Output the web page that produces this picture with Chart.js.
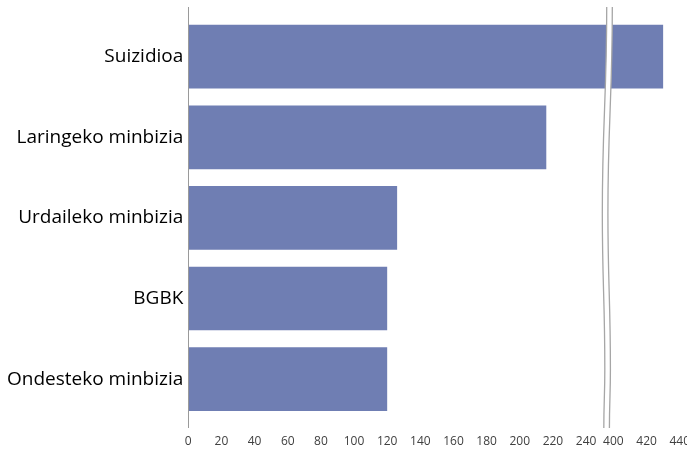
<!DOCTYPE html>
<html lang="eu">
<head>
    <meta charset="UTF-8" />
    <title>Heriotza-kausak</title>
    <script src="https://cdn.jsdelivr.net/npm/chart.js"></script>
    <style>
        html, body { margin: 0; padding: 0; background: #fff; overflow: hidden; }
        #causesChart { display: block; }
    </style>
</head>
<body>
<canvas id="causesChart" width="705" height="452"></canvas>

<script>
    // Datuak
    const causes = ['Suizidioa', 'Laringeko minbizia', 'Urdaileko minbizia', 'BGBK', 'Ondesteko minbizia'];
    const values = [430, 216, 126, 120, 120];
    const lowTicks = [0, 20, 40, 60, 80, 100, 120, 140, 160, 180, 200, 220, 240];
    const highTicks = [400, 420, 440];

    // Ardatz etena: 400etik aurrera balioak ezkerrera lerratzen dira
    const BREAK_SHIFT = 143.5;
    const BREAK_AT = 252.7;
    const toAxis = v => v >= 400 ? v - BREAK_SHIFT : v;
    const fromAxis = v => v > BREAK_AT ? Math.round(v + BREAK_SHIFT) : v;

    const BAR_COLOR = 'rgb(111,126,179)';
    const LINE_COLOR = '#a6a6a6';

    const axisLines = {
        id: 'axisLines',
        afterDatasetsDraw(chart) {
            const ctx = chart.ctx;
            const x = chart.scales.x;
            const top = 7, bottom = 428;
            const h = bottom - top;

            // y ardatzaren lerroa
            ctx.save();
            ctx.strokeStyle = '#9a9a9a';
            ctx.lineWidth = 1;
            ctx.beginPath();
            ctx.moveTo(Math.round(x.left) + 0.5, top);
            ctx.lineTo(Math.round(x.left) + 0.5, bottom);
            ctx.stroke();

            // etenaren marra uhinduak (erdiko lerroaren puntuak, goitik behera)
            const xc = x.getPixelForValue(BREAK_AT);
            const gap = 2.8;
            const pts = [[2.4, 0], [-2, 0.49], [0.5, 0.86], [-0.5, 1]];
            const wave = off => pts.map(([dx, t]) => [xc + dx + off, top + h * t]);
            const trace = (p, first) => {
                if (first) ctx.moveTo(p[0][0], p[0][1]);
                for (let i = 1; i < p.length; i++) {
                    const [x0, y0] = p[i - 1], [x1, y1] = p[i];
                    const my = (y1 - y0) * 0.45;
                    ctx.bezierCurveTo(x0, y0 + my, x1, y1 - my, x1, y1);
                }
            };

            // tarte zuria bi marren artean
            const left = wave(-gap), right = wave(gap);
            ctx.fillStyle = '#fff';
            ctx.beginPath();
            trace(left, true);
            const back = right.slice().reverse();
            ctx.lineTo(back[0][0], back[0][1]);
            trace(back, false);
            ctx.closePath();
            ctx.fill();

            ctx.strokeStyle = LINE_COLOR;
            ctx.lineWidth = 1.3;
            ctx.beginPath();
            trace(left, true);
            ctx.stroke();
            ctx.beginPath();
            trace(right, true);
            ctx.stroke();
            ctx.restore();
        }
    };

    const ctx = document.getElementById('causesChart').getContext('2d');
    const chart = new Chart(ctx, {
        type: 'bar',
        data: {
            labels: causes,
            datasets: [{
                data: values.map(toAxis),
                backgroundColor: BAR_COLOR,
                borderWidth: 0,
                barPercentage: 0.79,
                categoryPercentage: 1
            }]
        },
        options: {
            indexAxis: 'y',
            responsive: false,
            animation: false,
            layout: { padding: { top: 15.6, right: 0, bottom: 0, left: 0 } },
            plugins: {
                legend: { display: false },
                tooltip: { enabled: false }
            },
            scales: {
                x: {
                    min: 0,
                    max: toAxis(440),
                    grid: { display: false, drawTicks: false },
                    border: { display: false },
                    afterBuildTicks(scale) {
                        scale.ticks = lowTicks.concat(highTicks).map(v => ({ value: toAxis(v) }));
                    },
                    afterFit(scale) { scale.height = 452 - 419.4; },
                    ticks: {
                        autoSkip: false,
                        maxRotation: 0,
                        padding: 15,
                        color: '#404040',
                        font: { family: 'Open Sans', size: 12 },
                        callback: v => String(fromAxis(v))
                    }
                },
                y: {
                    grid: { display: false, drawTicks: false },
                    border: { display: false },
                    afterFit(scale) { scale.width = 188.3; },
                    ticks: {
                        padding: 5,
                        color: '#000',
                        font: { family: 'Open Sans', size: 19 }
                    }
                }
            }
        },
        plugins: [axisLines]
    });
</script>
</body>
</html>
